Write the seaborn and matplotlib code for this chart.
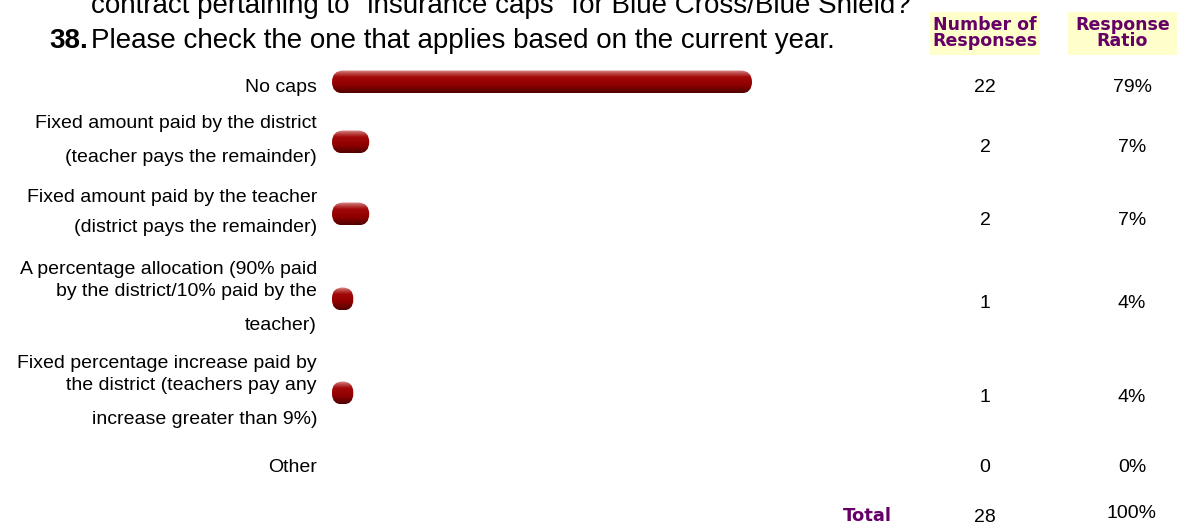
import matplotlib
matplotlib.use("Agg")
import matplotlib.pyplot as plt
from matplotlib import font_manager
from matplotlib.patches import FancyBboxPatch, Rectangle, BoxStyle
from matplotlib.transforms import IdentityTransform
from matplotlib.colors import LinearSegmentedColormap
import numpy as np
import pandas as pd
import seaborn as sns

# ---- survey data -------------------------------------------------------
categories = [
    "No caps",
    "Fixed amount paid by the district\n(teacher pays the remainder)",
    "Fixed amount paid by the teacher\n(district pays the remainder)",
    "A percentage allocation (90% paid\nby the district/10% paid by the\nteacher)",
    "Fixed percentage increase paid by\nthe district (teachers pay any\nincrease greater than 9%)",
    "Other",
]
counts = [22, 2, 2, 1, 1, 0]
ratios = [79, 7, 7, 4, 4, 0]
total_count = 28
total_ratio = 100

question_lines = [
    "contract pertaining to \"insurance caps\" for Blue Cross/Blue Shield?",
    "Please check the one that applies based on the current year.",
]
question_number = "38."

# ---- page layout (pixels from the top-left corner) -----------------------
W, H = 1178, 525
label_line_y = [[88], [123, 157], [197, 228], [269, 292, 325], [363, 386, 420], [468]]
bar_y = [82, 142, 214, 299, 393, 464]
value_y = [88, 148, 220, 303, 397, 468]
total_y = 516
label_right = 317
count_x, ratio_x = 985, 1132
bar_left, bar_right = 332, 752
bar_h = 23

sns.set_theme(style="white")
names = {f.name for f in font_manager.fontManager.ttflist}
narrow = "Liberation Sans Narrow" if "Liberation Sans Narrow" in names else "Liberation Sans"
plt.rcParams["font.family"] = ["Liberation Sans", "DejaVu Sans"]

fig = plt.figure(figsize=(W / 100, H / 100), dpi=100)
fig.patch.set_facecolor("white")


def txt(x, y, s, **kw):
    return fig.text(x / W, 1 - y / H, s, **kw)


# ---- bars ---------------------------------------------------------------
ax = fig.add_axes([bar_left / W, 0, (bar_right - bar_left) / W, 1])
df = pd.DataFrame({"ratio": ratios, "row": bar_y})
min_gap = np.min(np.diff(sorted(bar_y)))
sns.barplot(data=df, x="ratio", y="row", orient="h", native_scale=True,
            width=bar_h / min_gap, color="#990000", ax=ax)
ax.set_xlim(0, max(ratios))
ax.set_ylim(H, 0)
ax.axis("off")

grad_cmap = LinearSegmentedColormap.from_list(
    "bar", [(0.0, "#d99090"), (0.12, "#c05050"), (0.3, "#a30808"),
            (0.65, "#900000"), (1.0, "#500000")])
grad = np.linspace(0, 1, 64).reshape(-1, 1)

for p in list(ax.patches):
    x0, y0, w, h = p.get_x(), p.get_y(), p.get_width(), p.get_height()
    p.set_visible(False)
    if w <= 0:
        continue
    (dx0, dy0) = ax.transData.transform((x0, y0))
    (dx1, dy1) = ax.transData.transform((x0 + w, y0 + h))
    left, bottom = min(dx0, dx1), min(dy0, dy1)
    bw, bh = abs(dx1 - dx0), abs(dy1 - dy0)
    r = min(bh / 2, bw / 2)
    shape = FancyBboxPatch((left, bottom), bw, bh,
                           boxstyle=BoxStyle.Round(pad=0, rounding_size=r),
                           transform=IdentityTransform(),
                           facecolor="none", edgecolor="none")
    ax.add_patch(shape)
    im = ax.imshow(grad, cmap=grad_cmap, aspect="auto", interpolation="bilinear",
                   extent=(x0, x0 + w, y0 + h, y0), zorder=3)
    im.set_clip_path(shape)

ax.set_xlim(0, max(ratios))
ax.set_ylim(H, 0)

# ---- question text ----------------------------------------------------------
qfont = [narrow, "DejaVu Sans"]
txt(91, 13, question_lines[0], family=qfont, fontsize=20,
    va="baseline", ha="left", color="black")
txt(91, 48, question_lines[1], family=qfont, fontsize=20,
    va="baseline", ha="left", color="black")
txt(88, 48, question_number, family=qfont, fontsize=20,
    fontweight="bold", va="baseline", ha="right", color="black")

# ---- column headers -------------------------------------------------------------
purple = "#660066"
for (x0, x1), head in [((930, 1040), "Number of\nResponses"), ((1068, 1177), "Response\nRatio")]:
    fig.patches.append(Rectangle((x0 / W, 1 - 55 / H), (x1 - x0) / W, 43 / H,
                                 transform=fig.transFigure, facecolor="#ffffcc",
                                 edgecolor="none", zorder=0))
    txt((x0 + x1) / 2, 33, head, family="DejaVu Sans", fontweight="heavy",
        fontsize=12.5, color=purple, ha="center", va="center", linespacing=0.92)

# ---- category labels and values -------------------------------------------------
fs = 14
for cat, ys, c, r, vy in zip(categories, label_line_y, counts, ratios, value_y):
    for line, ly in zip(cat.split("\n"), ys):
        txt(label_right, ly, line, fontsize=fs, ha="right", va="center", color="black")
    txt(count_x, vy, f"{c}", fontsize=fs, ha="center", va="center", color="black")
    txt(ratio_x, vy, f"{r}%", fontsize=fs, ha="center", va="center", color="black")

txt(867, total_y, "Total", family="DejaVu Sans", fontweight="heavy", fontsize=13,
    color=purple, ha="center", va="center")
txt(count_x, total_y + 1, f"{total_count}", fontsize=fs, ha="center", va="center", color="black")
txt(ratio_x, total_y - 3, f"{total_ratio}%", fontsize=fs, ha="center", va="center", color="black")

fig.savefig("out.png", dpi=100, facecolor="white")
